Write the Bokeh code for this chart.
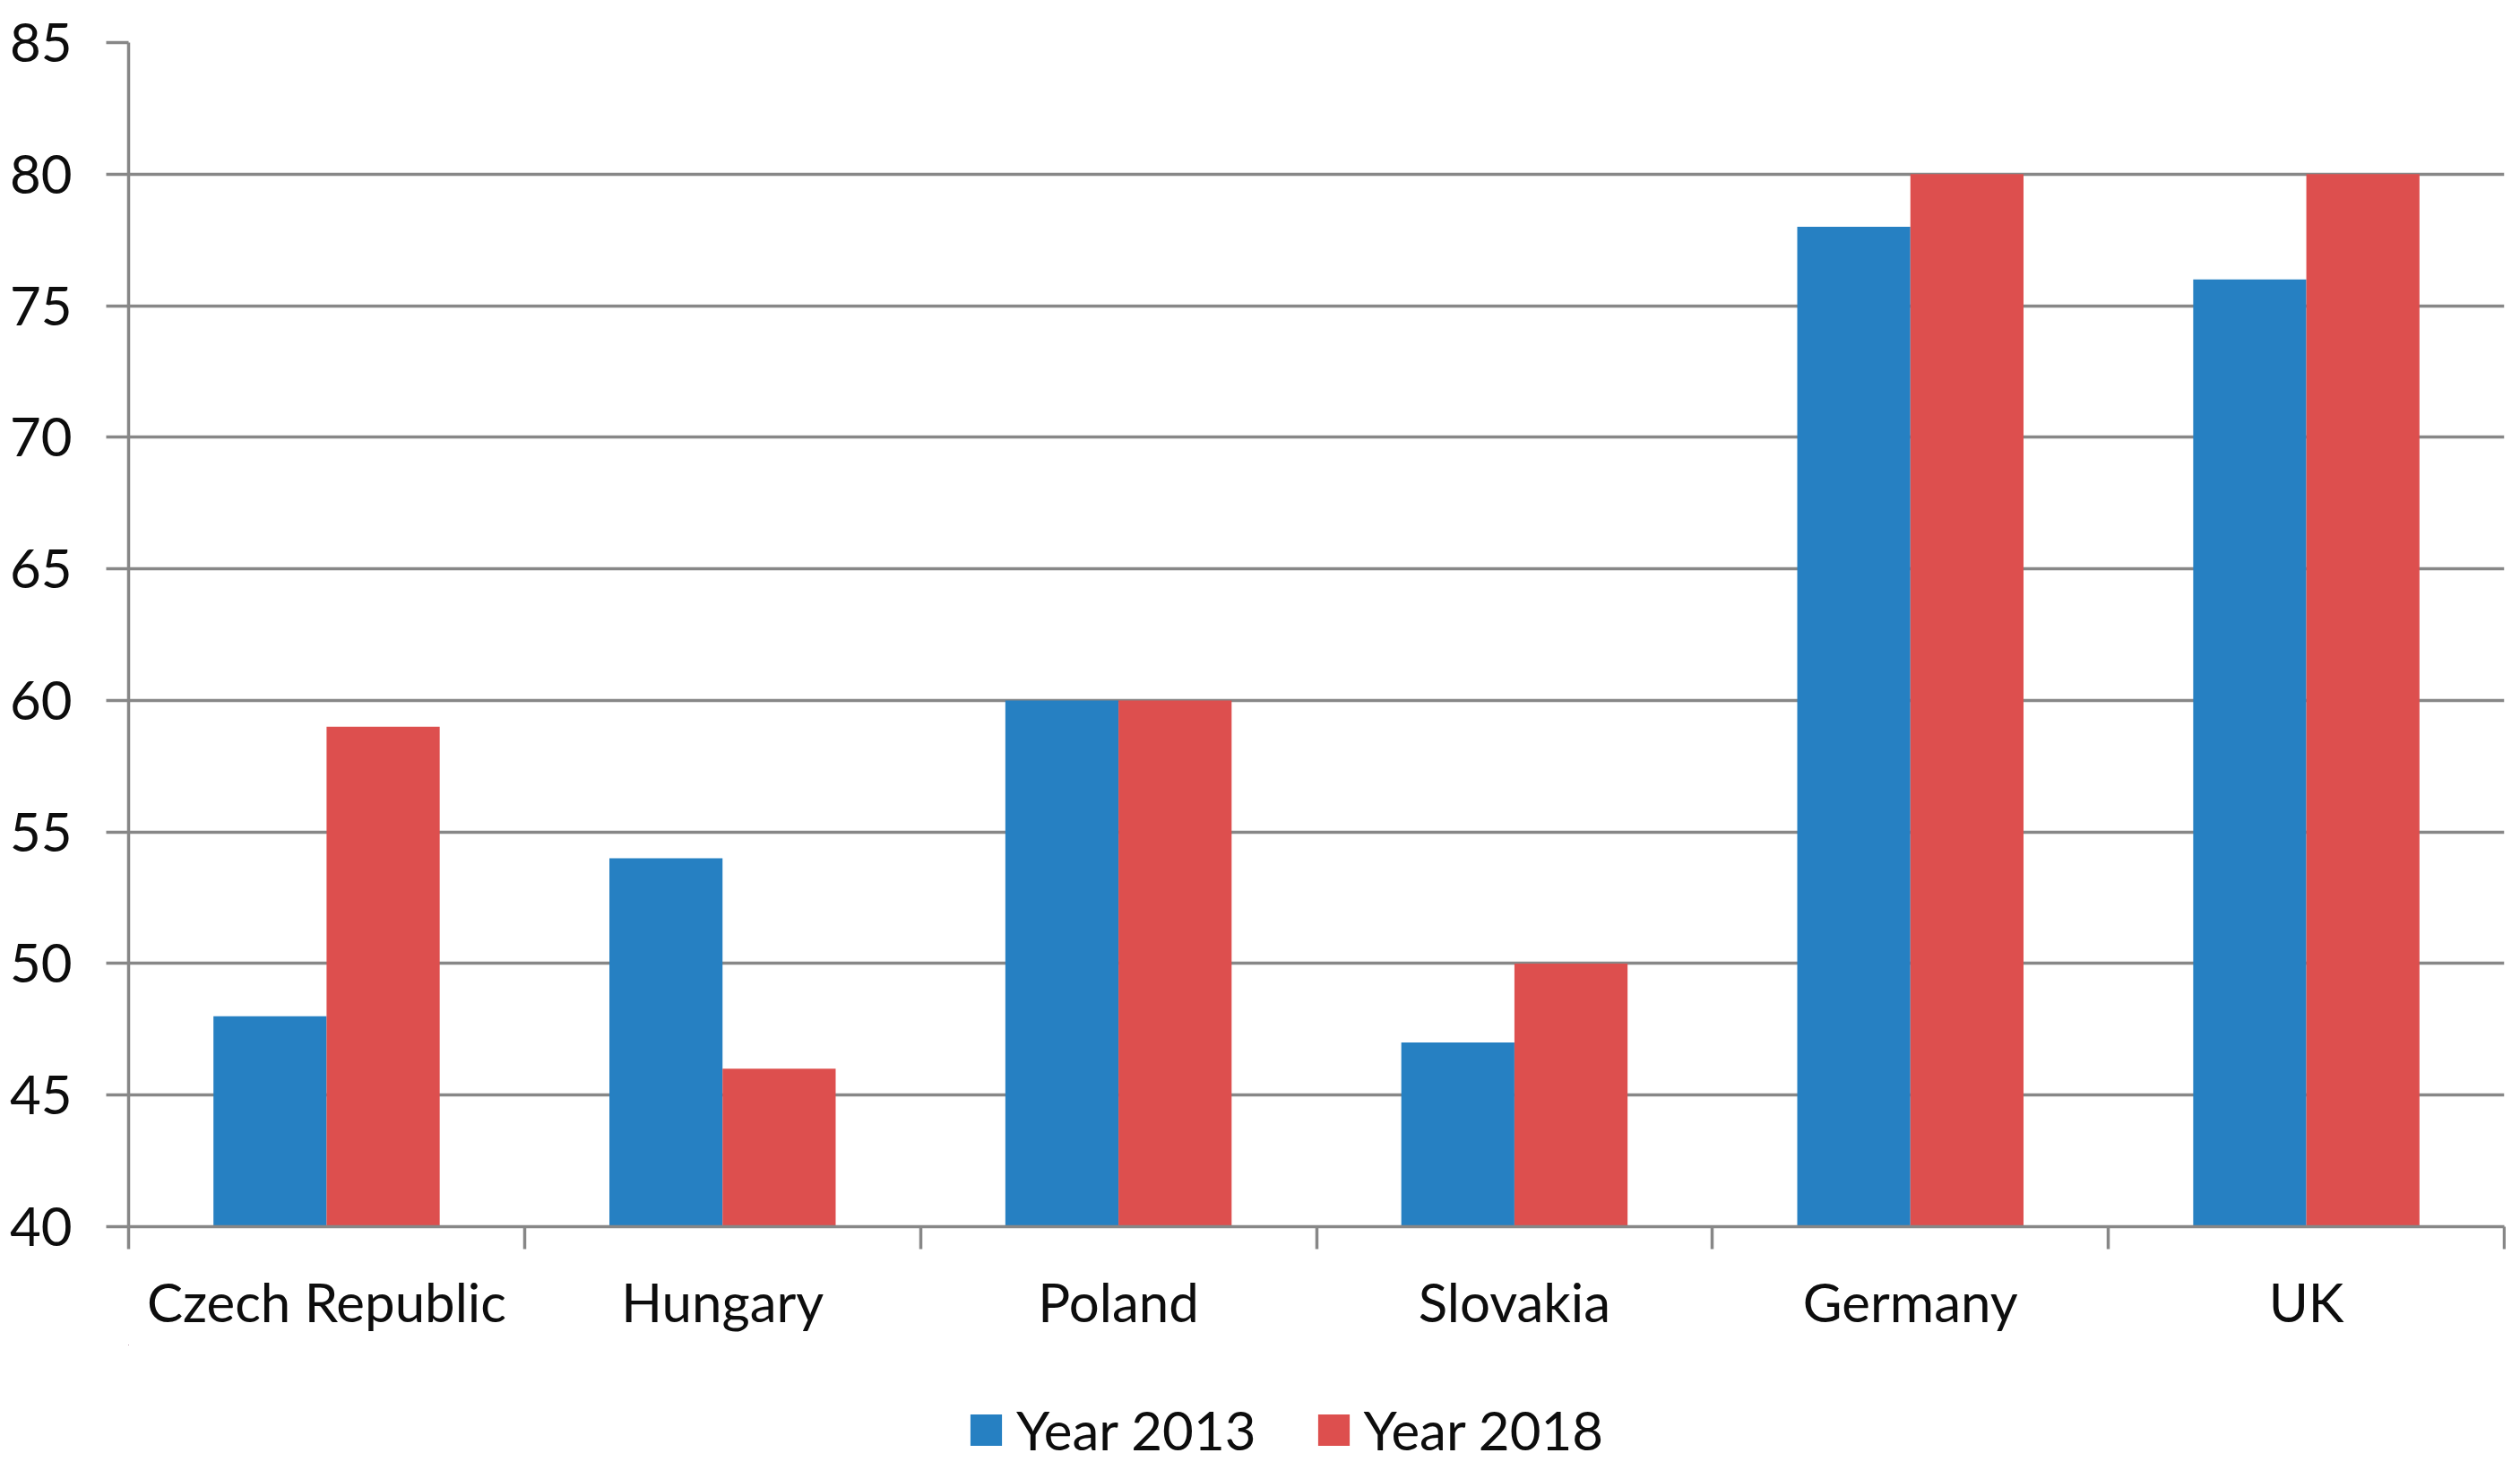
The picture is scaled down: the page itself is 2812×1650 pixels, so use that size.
import numpy as np
from bokeh.plotting import figure
from bokeh.layouts import column
from bokeh.models import Range1d, FixedTicker, Legend, LegendItem, ColumnDataSource
from bokeh.embed import file_html
from bokeh.resources import INLINE

# ---- data ----
categories = ["Czech Republic", "Hungary", "Poland", "Slovakia", "Germany", "UK"]
year_2013 = [48, 54, 60, 47, 78, 76]
year_2018 = [59, 46, 60, 50, 80, 80]
series_names = ["Year 2013", "Year 2018"]
y_ticks = [40, 45, 50, 55, 60, 65, 70, 75, 80, 85]

# ---- styles ----
FONT = "Lato"
FONT_SIZE = "60px"
TEXT = "#0d0d0d"
BLUE = "#2680C2"
RED = "#DD4F4E"
GRID = "#878787"
LW = 3.5
W = 2796
H_MAIN = 1500
H_LEG = 134

n = len(categories)
centers = np.arange(n) + 0.5
bw = 1 / 3.5  # Excel gap width 150%

src = ColumnDataSource(dict(
    cat=categories,
    x13=centers - bw / 2,
    x18=centers + bw / 2,
    y13=year_2013,
    y18=year_2018,
))

p = figure(width=W, height=H_MAIN,
           x_range=Range1d(0, n), y_range=Range1d(y_ticks[0], y_ticks[-1]),
           output_backend="svg", toolbar_location=None,
           min_border_left=143, min_border_right=2,
           min_border_top=47, min_border_bottom=H_MAIN - 1368)
p.outline_line_color = None
p.background_fill_color = "white"
p.border_fill_color = "white"

r13 = p.vbar(x="x13", top="y13", bottom=y_ticks[0], width=bw, source=src,
             fill_color=BLUE, line_color=None)
r18 = p.vbar(x="x18", top="y18", bottom=y_ticks[0], width=bw, source=src,
             fill_color=RED, line_color=None)

# y axis
ya = p.yaxis[0]
ya.ticker = FixedTicker(ticks=y_ticks, minor_ticks=[])
ya.axis_line_color = GRID
ya.axis_line_width = LW
ya.major_tick_line_color = GRID
ya.major_tick_line_width = LW
ya.major_tick_in = 0
ya.major_tick_out = 25
ya.minor_tick_line_color = None
ya.major_label_standoff = 38
ya.major_label_text_font = FONT
ya.major_label_text_font_size = FONT_SIZE
ya.major_label_text_color = TEXT

# x axis: labels at centres, ticks at category boundaries
xa = p.xaxis[0]
xa.ticker = FixedTicker(ticks=centers.tolist(), minor_ticks=list(range(n + 1)))
xa.major_label_overrides = {float(c): name for c, name in zip(centers, categories)}
xa.axis_line_color = GRID
xa.axis_line_width = LW
xa.major_tick_line_color = None
xa.major_tick_in = 0
xa.major_tick_out = 25
xa.minor_tick_line_color = GRID
xa.minor_tick_line_width = LW
xa.minor_tick_in = 0
xa.minor_tick_out = 25
xa.major_label_standoff = 22
xa.major_label_text_font = FONT
xa.major_label_text_font_size = FONT_SIZE
xa.major_label_text_color = TEXT

p.xgrid.visible = False
p.ygrid.ticker = FixedTicker(ticks=y_ticks, minor_ticks=[])
p.ygrid.grid_line_color = GRID
p.ygrid.grid_line_width = LW

# ---- legend strip below the chart ----
# its view is far from the data, so only the legend swatches of the series show
lf = figure(width=W, height=H_LEG, x_range=Range1d(100, 106), y_range=Range1d(-10, -9),
            output_backend="svg", toolbar_location=None,
            min_border_left=0, min_border_right=0, min_border_top=0, min_border_bottom=0)
lf.axis.visible = False
lf.grid.visible = False
lf.outline_line_color = None
lf.border_fill_color = "white"
l13 = lf.vbar(x="x13", top="y13", bottom=y_ticks[0], width=bw, source=src,
              fill_color=BLUE, line_color=None)
l18 = lf.vbar(x="x18", top="y18", bottom=y_ticks[0], width=bw, source=src,
              fill_color=RED, line_color=None)

legend = Legend(items=[LegendItem(label=series_names[0], renderers=[l13]),
                       LegendItem(label=series_names[1], renderers=[l18])],
                orientation="horizontal", location=(935, 3),
                glyph_width=44, glyph_height=44, label_standoff=12, spacing=64,
                padding=0, margin=0, border_line_color=None,
                background_fill_alpha=0,
                label_text_font=FONT, label_text_font_size=FONT_SIZE,
                label_text_color=TEXT)
lf.add_layout(legend, "center")

layout = column(p, lf, spacing=0)
open("out.html", "w").write(file_html(layout, INLINE))
